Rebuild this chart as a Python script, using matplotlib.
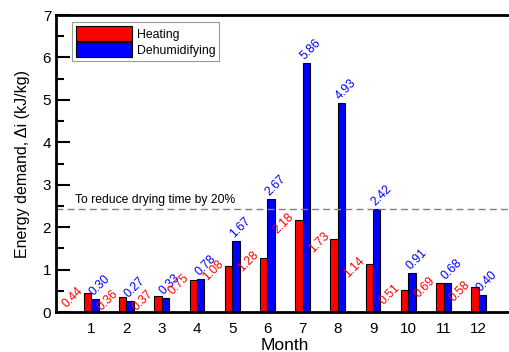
import numpy as np
from matplotlib import pyplot as plt
from matplotlib.ticker import MultipleLocator

plt.rcParams['font.family'] = ['Liberation Sans', 'DejaVu Sans']

months = np.arange(1, 13)
heating = [0.44, 0.36, 0.37, 0.75, 1.08, 1.28, 2.18, 1.73, 1.14, 0.51, 0.69, 0.58]
dehumid = [0.30, 0.27, 0.33, 0.78, 1.67, 2.67, 5.86, 4.93, 2.42, 0.91, 0.68, 0.40]
target = 2.42

fig = plt.figure(figsize=(5.1, 3.52), dpi=100)
# axes runs a bit past the right edge of the picture, as in the original
ax = fig.add_axes([56 / 510, 40 / 352, 458 / 510, 297 / 352])

w = 0.21
ax.bar(months - w / 2, heating, w, color='red', edgecolor='black', linewidth=0.8, label='Heating')
ax.bar(months + w / 2, dehumid, w, color='blue', edgecolor='black', linewidth=0.8, label='Dehumidifying')

# value labels, rotated
for m, h, d in zip(months, heating, dehumid):
    ax.text(m - 0.17, h - 0.1, f'{h:.2f}', color='red', fontsize=8.8,
            rotation=45, ha='right', va='center')
    ax.text(m - 0.12, d + 0.02, f'{d:.2f}', color='blue', fontsize=8.8,
            rotation=45, ha='left', va='bottom')

ax.axhline(target, color='gray', linestyle='--', linewidth=1, dashes=(5, 3))
ax.text(0.55, target + 0.07, 'To reduce drying time by 20%', fontsize=8.7, va='bottom')

ax.set_xlim(0, 13)
ax.set_ylim(0, 7)
ax.set_xticks(months)
ax.yaxis.set_major_locator(MultipleLocator(1))
ax.yaxis.set_minor_locator(MultipleLocator(0.5))
ax.tick_params(axis='y', which='major', direction='in', length=10, width=1.5, labelsize=11)
ax.tick_params(axis='y', which='minor', direction='in', length=6, width=1.5)
ax.tick_params(axis='x', length=0, labelsize=11, pad=7)
ax.spines['right'].set_visible(False)
for s in ['left', 'bottom', 'top']:
    ax.spines[s].set_linewidth(2)

ax.set_xlabel('Month', fontsize=12.5, labelpad=2)
ax.set_ylabel('Energy demand, Δi (kJ/kg)', fontsize=11.5, labelpad=9)

leg = ax.legend(loc='upper left', bbox_to_anchor=(0.035, 0.975), fontsize=8.8,
                handlelength=4.6, handleheight=1.5, fancybox=False,
                borderaxespad=0, borderpad=0.3, labelspacing=0.1, handletextpad=0.4)
leg.get_frame().set_edgecolor('gray')
leg.get_frame().set_linewidth(0.8)

fig.savefig('out.png', dpi=100)
